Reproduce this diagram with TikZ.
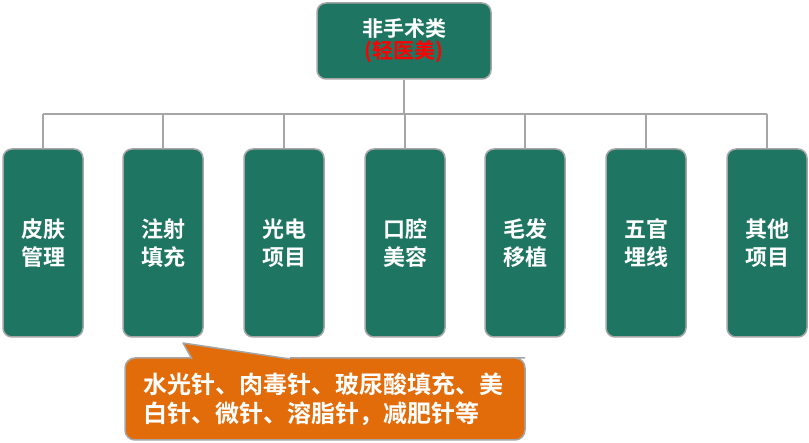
\documentclass[tikz,border=0pt]{standalone}
\usepackage{fontspec}
\newfontfamily\cjk{Noto Sans CJK SC}[BoldFont={Noto Sans CJK SC Bold}]
\definecolor{gr}{HTML}{1E7561}
\definecolor{og}{HTML}{E36C0A}
\begin{document}
\begin{tikzpicture}[x=1pt,y=-1pt,
  box/.style={draw=gray!70,line width=1.5pt,fill=gr,rounded corners=9pt,minimum width=80pt,minimum height=188pt,text=white,font=\cjk\bfseries\fontsize{22}{28}\selectfont,align=center,inner sep=0pt},
  con/.style={draw=gray!70,line width=1.3pt}]
\useasboundingbox (0,0) rectangle (809,443);
\node[box,minimum width=174pt,minimum height=76pt,font=\cjk\bfseries\fontsize{21}{25}\selectfont] (top) at (404,41) {非手术类\\[-3pt]\textcolor{red}{(轻医美)}};
\foreach \n/\x/\t in {a/43/皮肤\\管理, b/163/注射\\填充, c/284/光电\\项目, d/405/口腔\\美容, e/525/毛发\\移植, f/646/五官\\埋线, g/767/其他\\项目}{
  \node[box] (\n) at (\x,243) {\t};
  \draw[con] (\x,114) -- (\n.north);
}
\coordinate (h) at (404,114);
\draw[con] (top.south) -- (h);
\draw[con] (a.north |- h) -- (g.north |- h);
\draw[draw=gray!70,line width=1.5pt,fill=og,rounded corners=10pt]
  (290,358) -- (515,358) -- (525,358) -- (525,440) -- (125,440) -- (125,358) -- (192,358);
\fill[og,draw=gray!70,line width=1.5pt,line join=round] (192,359) -- (183,343) -- (290,359);
\fill[og] (190,360) -- (292,360) -- (292,364) -- (190,364) -- cycle;
\node[text=white,font=\cjk\bfseries\fontsize{24}{29}\selectfont,align=left,anchor=west,inner sep=0pt] (ct) at (143,399) {水光针、肉毒针、玻尿酸填充、美\\白针、微针、溶脂针，减肥针等};
\end{tikzpicture}
\end{document}
